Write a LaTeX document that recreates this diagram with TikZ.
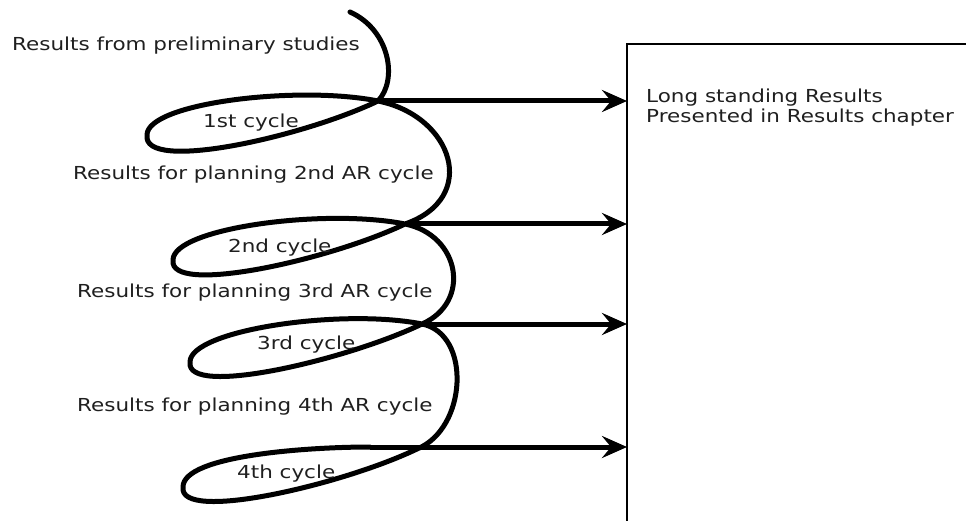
\documentclass[tikz,border=0pt]{standalone}
\usepackage{fontspec}
\setmainfont{DejaVu Sans}[FakeStretch=1.2]
\usetikzlibrary{arrows.meta}
\begin{document}
\begin{tikzpicture}[x=1pt,y=-1pt,
  spiral/.style={line width=5pt, line join=round, line cap=round},
  feed/.style={line width=5pt, -{Stealth[length=25pt,width=22pt,inset=9pt]}},
  lbl/.style={anchor=base west, inner sep=0pt, font=\fontsize{17.9}{20}\selectfont, text=black!88},
  ]
\useasboundingbox (0,0) rectangle (966,521);

% results box, open to the right and bottom
\node[draw, line width=2pt, anchor=north west, outer sep=0pt, inner sep=0pt,
      minimum width=400pt, minimum height=520pt] (box) at (627,44) {};

% crossing points and loop ends of the spiral
\coordinate (s0) at (350,12);
\coordinate (c1) at (378,101);
\coordinate (l1) at (147,135);
\coordinate (c2) at (405,224);
\coordinate (l2) at (173,260);
\coordinate (c3) at (422,324);
\coordinate (l3) at (190,362);
\coordinate (c4) at (417,449);
\coordinate (l4) at (183,487);
\coordinate (e4) at (370,447);

% the action research spiral
\draw[spiral] (s0) .. controls +(40,18) and +(20,-21) .. (c1)
  .. controls +(-75,36) and +(-5,38) .. (l1)
  .. controls +(0,-32) and +(-80,-16) .. (c1)
  .. controls +(75,15) and +(75,-26) .. (c2)
  .. controls +(-75,36) and +(-5,36) .. (l2)
  .. controls +(0,-32) and +(-80,-16) .. (c2)
  .. controls +(55,11) and +(50,-22) .. (c3)
  .. controls +(-75,36) and +(-5,36) .. (l3)
  .. controls +(0,-32) and +(-80,-16) .. (c3)
  .. controls +(50,10) and +(50,-20) .. (c4)
  .. controls +(-75,36) and +(-5,36) .. (l4)
  .. controls +(0,-32) and +(-60,0) .. (e4);

% labels
\node[lbl] (prelim) at (12,51) {Results from preliminary studies};
\node[lbl] (cyc1) at (203,128) {1st cycle};
\node[lbl] (plan2) at (73,180) {Results for planning 2nd AR cycle};
\node[lbl] (cyc2) at (228,253) {2nd cycle};
\node[lbl] (plan3) at (77,298) {Results for planning 3rd AR cycle};
\node[lbl] (cyc3) at (257,349) {3rd cycle};
\node[lbl] (plan4) at (77,411) {Results for planning 4th AR cycle};
\node[lbl] (cyc4) at (237,478) {4th cycle};
\node[lbl, align=left] (long) at (646,123) {Long standing Results\\Presented in Results chapter};

% outcomes of each cycle feeding the results box
\draw[feed] (c1) -- (c1 -| box.west);
\draw[feed] (c2) -- (c2 -| box.west);
\draw[feed] (c3) -- (c3 -| box.west);
\draw[feed] (e4) -- (e4 -| box.west);
\end{tikzpicture}
\end{document}
